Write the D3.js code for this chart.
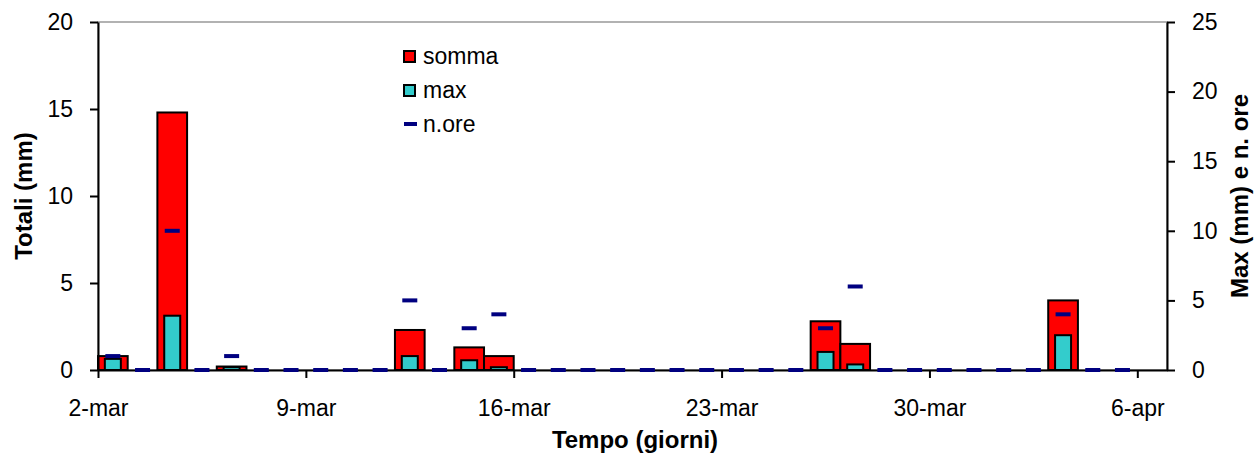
<!DOCTYPE html>
<html>
<head>
<meta charset="utf-8">
<script src="https://cdn.jsdelivr.net/npm/d3@7"></script>
<style>
  body{margin:0;background:#fff;}
  text{font-family:"Liberation Sans",Arial,sans-serif;fill:#000;}
</style>
</head>
<body>
<svg id="chart" width="1260" height="454"></svg>
<script>
// daily values, 2-mar .. 5-apr
const firstDay = new Date(Date.UTC(2009,2,2));
const somma = [0.8,0,14.8,0,0.2,0,0,0,0,0,2.3,0,1.3,0.8,0,0,0,0,0,0,0,0,0,0,2.8,1.5,0,0,0,0,0,0,4.0,0,0];
const maxH  = [0.8,0,3.9,0,0.2,0,0,0,0,0,1.0,0,0.7,0.2,0,0,0,0,0,0,0,0,0,0,1.3,0.4,0,0,0,0,0,0,2.5,0,0];
const nOre  = [1,0,10,0,1,0,0,0,0,0,5,0,3,4,0,0,0,0,0,0,0,0,0,0,3,6,0,0,0,0,0,0,4,0,0];
const mesi = ["gen","feb","mar","apr","mag","giu","lug","ago","set","ott","nov","dic"];
const leftTicks = [0,5,10,15,20];
const rightTicks = [0,5,10,15,20,25];

const days = somma.map((v,i)=>d3.utcDay.offset(firstDay,i));
const lastDay = d3.utcDay.offset(firstDay,36);

const svg = d3.select("#chart");
const L=98, R=1167, T=22, B=370;

const x = d3.scaleUtc().domain([firstDay,lastDay]).range([L,R]);
const yL = d3.scaleLinear().domain([0,20]).range([B,T]);
const yR = d3.scaleLinear().domain([0,25]).range([B,T]);
const dayW = x(d3.utcDay.offset(firstDay,1)) - x(firstDay);

// plot border (only top shows)
svg.append("rect").attr("x",L).attr("y",T).attr("width",R-L).attr("height",B-T)
  .attr("fill","none").attr("stroke","#999").attr("stroke-width",1.5);

// somma bars
svg.append("g").selectAll("rect").data(days.filter((d,i)=>somma[i]>0)).join("rect")
  .attr("x",d=>x(d)).attr("width",dayW)
  .attr("y",d=>yL(somma[days.indexOf(d)]))
  .attr("height",d=>B-yL(somma[days.indexOf(d)]))
  .attr("fill","#ff0000").attr("stroke","#000").attr("stroke-width",2);

// max bars
const mW = 16;
svg.append("g").selectAll("rect").data(days.filter((d,i)=>maxH[i]>0)).join("rect")
  .attr("x",d=>x(d)+dayW/2-mW/2).attr("width",mW)
  .attr("y",d=>yR(maxH[days.indexOf(d)]))
  .attr("height",d=>B-yR(maxH[days.indexOf(d)]))
  .attr("fill","#33cccc").attr("stroke","#000").attr("stroke-width",2);

// axes
const fmt = d=>d.getUTCDate()+"-"+mesi[d.getUTCMonth()];
const xAxis = d3.axisBottom(x).tickValues(d3.utcDay.range(firstDay,lastDay,7))
  .tickFormat(fmt).tickSize(8).tickSizeOuter(0);
const gx = svg.append("g").attr("transform",`translate(0,${B})`).call(xAxis);
gx.selectAll("text").attr("dy","0").attr("y",46).style("font-size","23px");

const gl = svg.append("g").attr("transform",`translate(${L},0)`)
  .call(d3.axisLeft(yL).tickValues(leftTicks).tickSize(8).tickSizeOuter(0));
gl.selectAll("text").attr("x",-25).style("font-size","23px");

const gr = svg.append("g").attr("transform",`translate(${R},0)`)
  .call(d3.axisRight(yR).tickValues(rightTicks).tickSize(8).tickSizeOuter(0));
gr.selectAll("text").attr("x",25).style("font-size","23px");

[gx,gl,gr].forEach(g=>{
  g.select(".domain").attr("stroke","#000").attr("stroke-width",2);
  g.selectAll(".tick line").attr("stroke","#000").attr("stroke-width",2);
  g.selectAll("text").attr("font-family",null);
});

// n.ore dashes
svg.append("g").selectAll("rect").data(days).join("rect")
  .attr("x",d=>x(d)+dayW/2-7.5).attr("width",15)
  .attr("y",(d,i)=>yR(nOre[i])-2).attr("height",4)
  .attr("fill","#000080");

// titles
svg.append("text").attr("transform",`translate(32,196) rotate(-90)`)
  .attr("text-anchor","middle").style("font-size","24px").style("font-weight","bold")
  .text("Totali (mm)");
svg.append("text").attr("transform",`translate(1248,196) rotate(-90)`)
  .attr("text-anchor","middle").style("font-size","24px").style("font-weight","bold")
  .text("Max (mm) e n. ore");
svg.append("text").attr("x",635).attr("y",448)
  .attr("text-anchor","middle").style("font-size","24px").style("font-weight","bold")
  .text("Tempo (giorni)");

// legend
const leg = svg.append("g").attr("transform","translate(403,50)");
const items = [{t:"somma",c:"#ff0000",k:"box"},{t:"max",c:"#33cccc",k:"box"},{t:"n.ore",c:"#000080",k:"dash"}];
items.forEach((it,i)=>{
  const g = leg.append("g").attr("transform",`translate(0,${i*34})`);
  if(it.k==="box"){
    g.append("rect").attr("x",1).attr("y",1).attr("width",11).attr("height",11)
      .attr("fill",it.c).attr("stroke","#000").attr("stroke-width",2);
  } else {
    g.append("rect").attr("x",1).attr("y",4).attr("width",13).attr("height",4).attr("fill",it.c);
  }
  g.append("text").attr("x",20).attr("y",14).style("font-size","23px").text(it.t);
});
</script>
</body>
</html>
